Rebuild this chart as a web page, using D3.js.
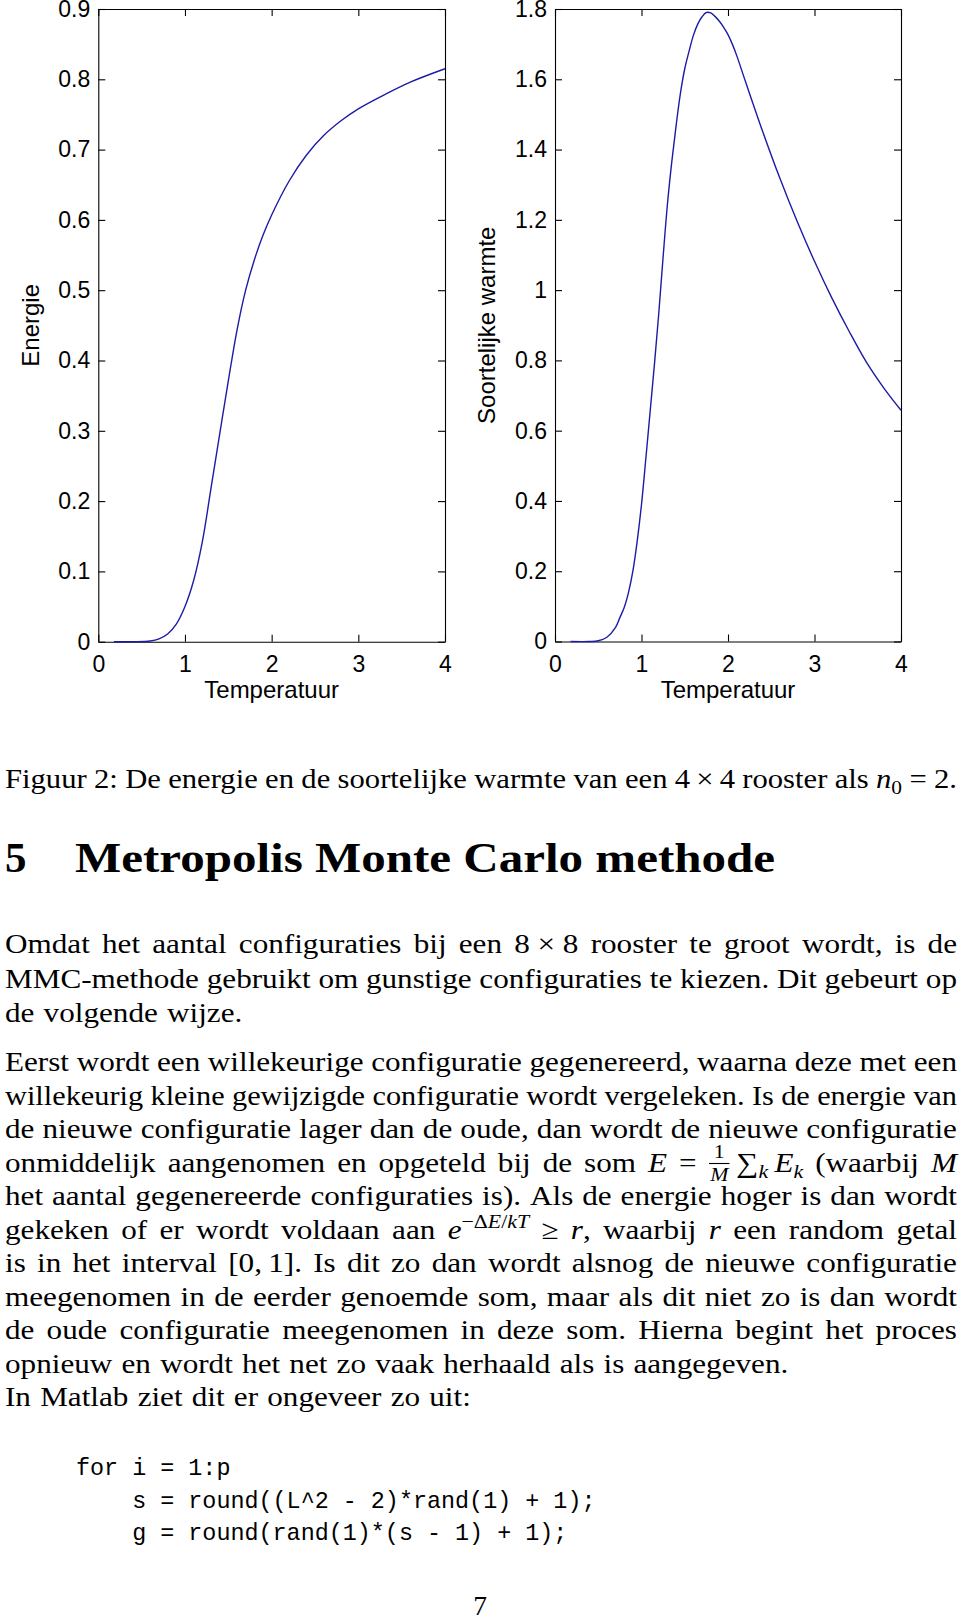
<!DOCTYPE html>
<html><head><meta charset="utf-8">
<script src="https://cdn.jsdelivr.net/npm/d3@7"></script>
<style>
html,body{margin:0;padding:0;background:#fff;}
svg{display:block;}
</style></head>
<body>
<svg id="page" width="960" height="1617"></svg>
<script>
// ---------------- data ----------------
const tempTicks = [0, 1, 2, 3, 4];
const tempTickLabels = ["0", "1", "2", "3", "4"];
const energyTicks = [0, 0.1, 0.2, 0.3, 0.4, 0.5, 0.6, 0.7, 0.8, 0.9];
const energyTickLabels = ["0", "0.1", "0.2", "0.3", "0.4", "0.5", "0.6", "0.7", "0.8", "0.9"];
const heatTicks = [0, 0.2, 0.4, 0.6, 0.8, 1.0, 1.2, 1.4, 1.6, 1.8];
const heatTickLabels = ["0", "0.2", "0.4", "0.6", "0.8", "1", "1.2", "1.4", "1.6", "1.8"];

const energyT = [0.18, 0.4, 0.6, 0.7, 0.8, 0.9, 1.0, 1.1, 1.2, 1.3, 1.4, 1.5, 1.6, 1.7, 1.8, 1.9, 2.0, 2.2, 2.4, 2.6, 2.8, 3.0, 3.3, 3.6, 4.0];
const energyE = [0, 0, 0.001, 0.004, 0.011, 0.025, 0.05, 0.087, 0.142, 0.218, 0.295, 0.371, 0.443, 0.500, 0.543, 0.578, 0.607, 0.655, 0.692, 0.720, 0.741, 0.758, 0.778, 0.796, 0.815];

const heatT = [0.18, 0.4, 0.5, 0.6, 0.7, 0.75, 0.8, 0.85, 0.9, 0.95, 1.0, 1.05, 1.1, 1.15, 1.2, 1.25, 1.3, 1.35, 1.4, 1.45, 1.5, 1.55, 1.6, 1.65, 1.7, 1.75, 1.8, 1.85, 1.9, 1.95, 2.0, 2.05, 2.1, 2.2, 2.4, 2.6, 2.8, 3.0, 3.2, 3.4, 3.6, 3.8, 4.0];
const heatC = [0, 0, 0.002, 0.012, 0.04, 0.068, 0.097, 0.14, 0.2, 0.285, 0.39, 0.52, 0.655, 0.79, 0.935, 1.095, 1.245, 1.365, 1.468, 1.56, 1.63, 1.68, 1.725, 1.757, 1.778, 1.79, 1.789, 1.779, 1.765, 1.748, 1.727, 1.70, 1.668, 1.595, 1.452, 1.318, 1.195, 1.082, 0.978, 0.883, 0.795, 0.722, 0.658];

const xLabel = "Temperatuur";
const energyLabel = "Energie";
const heatLabel = "Soortelijke warmte";

// ---------------- charts ----------------
const svg = d3.select("#page");
svg.append("rect").attr("width", 960).attr("height", 1617).attr("fill", "#fff");

const sansFont = "'Liberation Sans', Arial, Helvetica, sans-serif";
const lineColor = "#1c1ca6";

function drawPanel(opts) {
  const {x0, x1, y0, y1, yDomain, yTicks, yTickLabels, T, V, ylabel, ylabelX} = opts;
  const x = d3.scaleLinear().domain([0, 4]).range([x0, x1]);
  const y = d3.scaleLinear().domain(yDomain).range([y1, y0]);
  const g = svg.append("g").attr("font-family", sansFont);

  const fmtX = d => tempTickLabels[tempTicks.indexOf(d)];
  const fmtY = d => yTickLabels[yTicks.indexOf(d)];

  const styleAxis = sel => {
    sel.attr("font-family", sansFont).attr("font-size", 23);
    sel.selectAll("path.domain").attr("stroke", "#000").attr("stroke-width", 1.1);
    sel.selectAll(".tick line").attr("stroke", "#000").attr("stroke-width", 1.1);
    sel.selectAll(".tick text").attr("fill", "#000");
  };

  g.append("g").attr("transform", `translate(0,${y1})`)
    .call(d3.axisBottom(x).tickValues(tempTicks).tickFormat(fmtX).tickSize(-7).tickSizeOuter(0).tickPadding(14))
    .call(styleAxis);
  g.append("g").attr("transform", `translate(0,${y0})`)
    .call(d3.axisTop(x).tickValues(tempTicks).tickFormat("").tickSize(-7).tickSizeOuter(0))
    .call(styleAxis);
  g.append("g").attr("transform", `translate(${x0},0)`)
    .call(d3.axisLeft(y).tickValues(yTicks).tickFormat(fmtY).tickSize(-7).tickSizeOuter(0).tickPadding(8))
    .call(styleAxis);
  g.append("g").attr("transform", `translate(${x1},0)`)
    .call(d3.axisRight(y).tickValues(yTicks).tickFormat("").tickSize(-7).tickSizeOuter(0))
    .call(styleAxis);

  const data = T.map((t, i) => ({t, v: V[i]}));
  g.append("path").datum(data)
    .attr("fill", "none").attr("stroke", lineColor).attr("stroke-width", 1.4)
    .attr("d", d3.line().x(d => x(d.t)).y(d => y(Math.max(0, d.v))).curve(d3.curveCatmullRom.alpha(0.5)));

  g.append("text").attr("x", x(2)).attr("y", y1 + 56)
    .attr("text-anchor", "middle").attr("font-size", 24).attr("fill", "#000").text(xLabel);
  g.append("text").attr("transform", `translate(${ylabelX},${(y0 + y1) / 2}) rotate(-90)`)
    .attr("text-anchor", "middle").attr("font-size", 24).attr("fill", "#000").text(ylabel);
}

drawPanel({x0: 98.3, x1: 445, y0: 9, y1: 641.7, yDomain: [0, 0.9], yTicks: energyTicks, yTickLabels: energyTickLabels,
  T: energyT, V: energyE, ylabel: energyLabel, ylabelX: 39});
drawPanel({x0: 555, x1: 901, y0: 9, y1: 641.5, yDomain: [0, 1.8], yTicks: heatTicks, yTickLabels: heatTickLabels,
  T: heatT, V: heatC, ylabel: heatLabel, ylabelX: 495});

// ---------------- text ----------------
const serif = "'Liberation Serif', 'Times New Roman', serif";
const FS = 27.5;
const LEFT = 5, RIGHT = 957;
const it = t => ({t, i: true});
const sub = (t, i) => ({t, i, s: 0.7, dy: 6});
const sup = (t, i) => ({t, i, s: 0.7, dy: -11});

const captionLine = ["Figuur", "2:", "De", "energie", "en", "de", "soortelijke", "warmte", "van", "een", "4\u2009×\u20094", "rooster", "als", [it("n"), sub("0")], "=", "2."];

const para1 = [
  {words: "Omdat het aantal configuraties bij een".split(" ").concat(["8\u2005×\u20058"], "rooster te groot wordt, is de".split(" ")), justify: true},
  {words: "MMC-methode gebruikt om gunstige configuraties te kiezen. Dit gebeurt op".split(" "), justify: true},
  {words: "de volgende wijze.".split(" "), justify: false}
];
const para2 = [
  {words: "Eerst wordt een willekeurige configuratie gegenereerd, waarna deze met een".split(" "), justify: true},
  {words: "willekeurig kleine gewijzigde configuratie wordt vergeleken. Is de energie van".split(" "), justify: true},
  {words: "de nieuwe configuratie lager dan de oude, dan wordt de nieuwe configuratie".split(" "), justify: true},
  {words: "onmiddelijk aangenomen en opgeteld bij de som".split(" ").concat([[it("E")], "=", [{frac: ["1", "M"]}, {t: "\u2009"}, {t: "∑"}, sub("k", true), {t: "\u2009"}, it("E"), sub("k", true)], "(waarbij", [it("M")]]), justify: true},
  {words: "het aantal gegenereerde configuraties is). Als de energie hoger is dan wordt".split(" "), justify: true},
  {words: "gekeken of er wordt voldaan aan".split(" ").concat([[it("e"), sup("−Δ"), sup("E", true), sup("/"), sup("kT", true)], "≥", [it("r"), {t: ","}], "waarbij", [it("r")], "een", "random", "getal"]), justify: true},
  {words: ["is", "in", "het", "interval", "[0,\u20091].", "Is", "dit", "zo", "dan", "wordt", "alsnog", "de", "nieuwe", "configuratie"], justify: true},
  {words: "meegenomen in de eerder genoemde som, maar als dit niet zo is dan wordt".split(" "), justify: true},
  {words: "de oude configuratie meegenomen in deze som. Hierna begint het proces".split(" "), justify: true},
  {words: "opnieuw en wordt het net zo vaak herhaald als is aangegeven.".split(" "), justify: false},
  {words: "In Matlab ziet dit er ongeveer zo uit:".split(" "), justify: false}
];
const codeLines = ["for i = 1:p", "s = round((L^2 - 2)*rand(1) + 1);", "g = round(rand(1)*(s - 1) + 1);"];
const codeIndent = [0, 4, 4];

const textLayer = svg.append("g").attr("font-family", serif).attr("fill", "#000");

function renderWord(parent, word) {
  const g = parent.append("g");
  let cx = 0;
  const pieces = typeof word === "string" ? [{t: word}] : word;
  pieces.forEach(p => {
    if (p.frac) {
      const fs = FS * 0.7;
      const num = g.append("text").attr("font-size", fs).text(p.frac[0]);
      const den = g.append("text").attr("font-size", fs).attr("font-style", "italic").text(p.frac[1]);
      const wn = num.node().getComputedTextLength(), wd = den.node().getComputedTextLength();
      const w = Math.max(wn, wd) + 3;
      num.attr("x", cx + (w - wn) / 2).attr("y", -14);
      den.attr("x", cx + (w - wd) / 2).attr("y", 9.5);
      g.append("line").attr("x1", cx + 0.5).attr("x2", cx + w - 0.5).attr("y1", -8).attr("y2", -8)
        .attr("stroke", "#000").attr("stroke-width", 1.1);
      cx += w;
    } else {
      const t = g.append("text").attr("x", cx).attr("y", p.dy || 0).attr("font-size", FS * (p.s || 1)).text(p.t);
      if (p.i) t.attr("font-style", "italic");
      cx += t.node().getComputedTextLength();
    }
  });
  return {g, w: cx};
}

const SP = 0.333 * FS;
const allLines = [];
function prep(words, y, justify) {
  const items = words.map(w => renderWord(textLayer, w));
  allLines.push({items, y, justify, W: d3.sum(items, d => d.w)});
}
prep(captionLine, 788, true);
const p1y = 953, p2y = 1071, LH = 33.5, LH1 = 34.5;
para1.forEach((l, i) => prep(l.words, p1y + i * LH1, l.justify));
para2.forEach((l, i) => prep(l.words, p2y + i * LH, l.justify));

const ks = allLines.filter(l => l.justify).map(l => (RIGHT - LEFT - (l.items.length - 1) * SP) / l.W);
const K = d3.median(ks);
allLines.forEach(l => {
  const n = l.items.length;
  // clamp stretch so that interword gaps never drop below 0.8 of a normal space
  const kMax = (RIGHT - LEFT - (n - 1) * SP * 0.8) / l.W;
  const k = l.justify ? Math.min(K, kMax) : K;
  const gap = l.justify ? (RIGHT - LEFT - k * l.W) / (n - 1) : SP;
  let x = LEFT;
  l.items.forEach(it => {
    it.g.attr("transform", `translate(${x},${l.y}) scale(${k},1)`);
    x += it.w * k + gap;
  });
});

// heading
textLayer.append("text").attr("x", 5).attr("y", 872).attr("font-size", 43).attr("font-weight", "bold").text("5");
textLayer.append("text").attr("x", 75).attr("y", 872).attr("font-size", 43).attr("font-weight", "bold")
  .attr("textLength", 700).attr("lengthAdjust", "spacingAndGlyphs").text("Metropolis Monte Carlo methode");

// code
const codeLayer = svg.append("g").attr("font-family", "'Liberation Mono', 'DejaVu Sans Mono', monospace").attr("font-size", 23.4).attr("fill", "#000");
const CW = 14.04;
codeLines.forEach((c, i) => {
  codeLayer.append("text").attr("x", 76 + codeIndent[i] * CW).attr("y", 1475 + i * 32.7)
    .attr("textLength", c.length * CW).attr("lengthAdjust", "spacingAndGlyphs").text(c);
});

// page number
textLayer.append("text").attr("x", 480).attr("y", 1615).attr("text-anchor", "middle").attr("font-size", FS).text("7");
</script>
</body></html>
